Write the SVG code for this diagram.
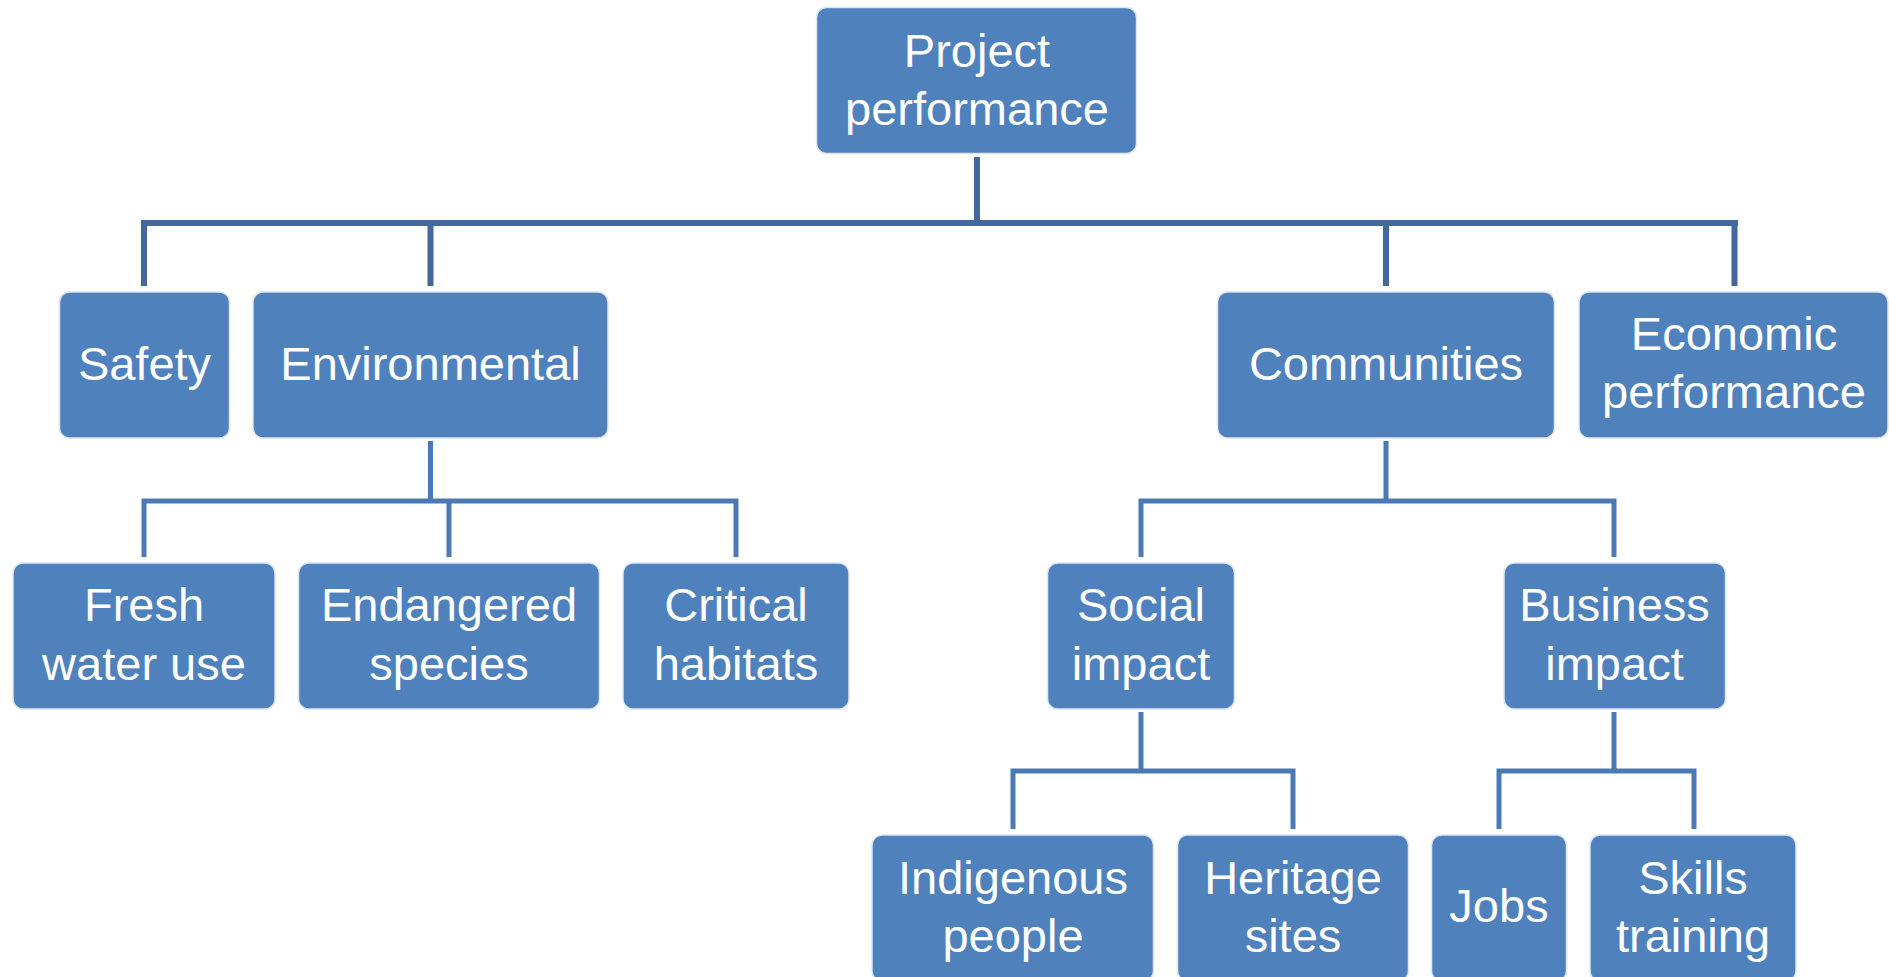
<svg xmlns="http://www.w3.org/2000/svg" width="1889" height="977" viewBox="0 0 1889 977">
<style>
.box{fill:#4F81BD;stroke:#DCE6F2;stroke-width:1.5}
.t{font-family:"Liberation Sans",Arial,sans-serif;font-size:47px;fill:#FFFFFF;text-anchor:middle}
.c1{stroke:#41699B;stroke-width:6;fill:none;stroke-linecap:butt}
.c2{stroke:#4A79B3;stroke-width:5;fill:none;stroke-linecap:butt}
</style>
<rect width="1889" height="977" fill="#FFFFFF"/>
<g id="connectors">
<path class="c1" d="M977,157 V223 M141,223 H1738 M144,223 V286 M430.5,223 V286 M1386,223 V286 M1734.5,223 V286"/>
<path class="c2" d="M430.5,441 V501 M141.5,501 H738.5 M144,501 V557 M449,501 V557 M736,501 V557"/>
<path class="c2" d="M1386,441 V501 M1138.5,501 H1616.5 M1141,501 V557 M1614,501 V557"/>
<path class="c2" d="M1141,712 V771 M1010.5,771 H1295.5 M1013,771 V829 M1293,771 V829"/>
<path class="c2" d="M1614,712 V771 M1496.5,771 H1696.5 M1499,771 V829 M1694,771 V829"/>
</g>
<g id="n-project"><rect class="box" x="816.5" y="7.5" width="320" height="146" rx="10"/><text class="t" x="977" y="67">Project</text><text class="t" x="977" y="125">performance</text></g>
<g id="n-safety"><rect class="box" x="59.5" y="292" width="170" height="146" rx="10"/><text class="t" x="144.5" y="380">Safety</text></g>
<g id="n-environmental"><rect class="box" x="253" y="292" width="355" height="146" rx="10"/><text class="t" x="430.5" y="380">Environmental</text></g>
<g id="n-communities"><rect class="box" x="1217.5" y="292" width="337" height="146" rx="10"/><text class="t" x="1386" y="380">Communities</text></g>
<g id="n-economic"><rect class="box" x="1579" y="292" width="309" height="146" rx="10"/><text class="t" x="1734" y="350">Economic</text><text class="t" x="1734" y="408">performance</text></g>
<g id="n-fresh"><rect class="box" x="13" y="563" width="262" height="146" rx="10"/><text class="t" x="144" y="621">Fresh</text><text class="t" x="144" y="680">water use</text></g>
<g id="n-endangered"><rect class="box" x="298.5" y="563" width="301" height="146" rx="10"/><text class="t" x="449" y="621">Endangered</text><text class="t" x="449" y="680">species</text></g>
<g id="n-critical"><rect class="box" x="623" y="563" width="226" height="146" rx="10"/><text class="t" x="736" y="621">Critical</text><text class="t" x="736" y="680">habitats</text></g>
<g id="n-social"><rect class="box" x="1047.5" y="563" width="187" height="146" rx="10"/><text class="t" x="1141" y="621">Social</text><text class="t" x="1141" y="680">impact</text></g>
<g id="n-business"><rect class="box" x="1504" y="563" width="221.5" height="146" rx="10"/><text class="t" x="1614.5" y="621">Business</text><text class="t" x="1614.5" y="680">impact</text></g>
<g id="n-indigenous"><rect class="box" x="872" y="835" width="281.5" height="146" rx="10"/><text class="t" x="1013" y="894">Indigenous</text><text class="t" x="1013" y="952">people</text></g>
<g id="n-heritage"><rect class="box" x="1177.5" y="835" width="231" height="146" rx="10"/><text class="t" x="1293" y="894">Heritage</text><text class="t" x="1293" y="952">sites</text></g>
<g id="n-jobs"><rect class="box" x="1431.5" y="835" width="135" height="146" rx="10"/><text class="t" x="1499" y="922">Jobs</text></g>
<g id="n-skills"><rect class="box" x="1590" y="835" width="206" height="146" rx="10"/><text class="t" x="1693" y="894">Skills</text><text class="t" x="1693" y="952">training</text></g>
</svg>
